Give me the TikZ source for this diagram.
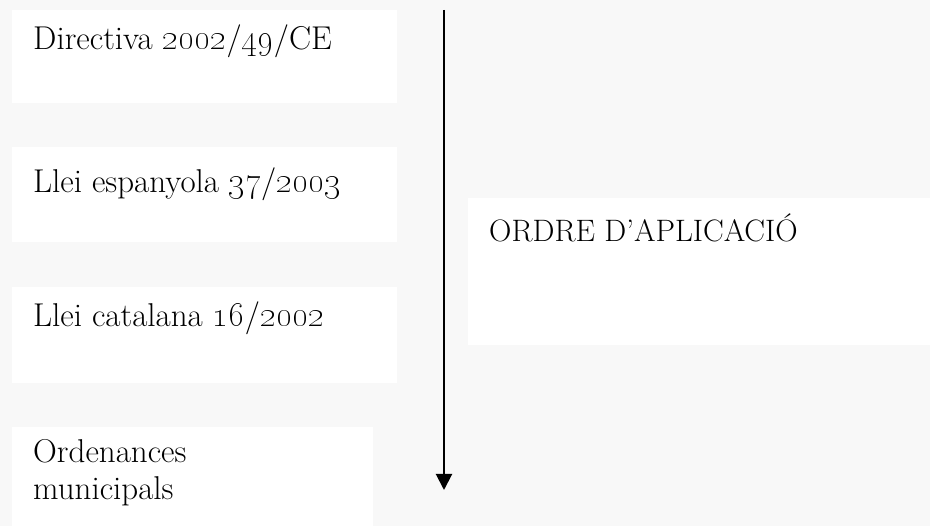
\documentclass[tikz,border=0pt]{standalone}
\usetikzlibrary{arrows.meta}
\definecolor{bgc}{RGB}{248,248,248}
\begin{document}
\begin{tikzpicture}[x=1pt,y=-1pt,
  boxw/.style={fill=white,draw=none},
  lbl/.style={anchor=base west,inner sep=0pt,font=\fontsize{33}{37}\selectfont,align=left},
  flow/.style={line width=2pt,-{Triangle[length=16pt,width=16pt]}}]
\fill[bgc] (0,0) rectangle (930,526);
\useasboundingbox (0,0) rectangle (930,526);
\fill[boxw] (12,10) rectangle (397,103);
\fill[boxw] (12,147) rectangle (397,242);
\fill[boxw] (12,287) rectangle (397,383);
\fill[boxw] (12,427) rectangle (373,526);
\fill[boxw] (468,198) rectangle (930,345);
\node[lbl] (d) at (33,50) {Directiva \oldstylenums{2002}/\oldstylenums{49}/CE};
\node[lbl] (e) at (33,193) {Llei espanyola \oldstylenums{37}/\oldstylenums{2003}};
\node[lbl] (c) at (33,327) {Llei catalana \oldstylenums{16}/\oldstylenums{2002}};
\node[lbl] (o) at (33,500) {Ordenances\\municipals};
\node[lbl,font=\fontsize{31}{37}\selectfont] (r) at (489,242) {ORDRE D’APLICACIÓ};
\coordinate (top) at (444,10);
\coordinate (bot) at (444,490);
\draw[flow] (top) -- (bot);
\end{tikzpicture}
\end{document}
